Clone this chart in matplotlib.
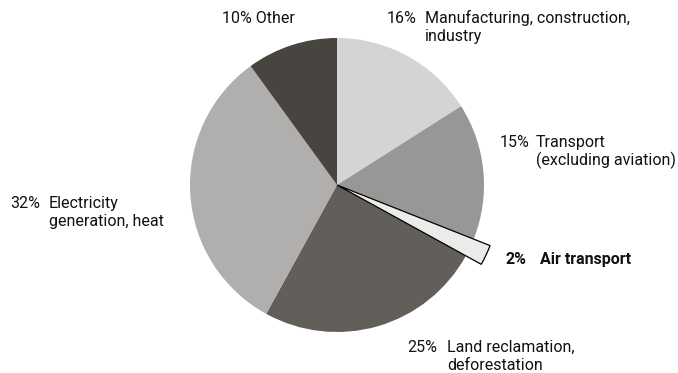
import matplotlib.pyplot as plt

plt.rcParams['font.family'] = ['Roboto', 'DejaVu Sans']

# Shares of emissions by sector, clockwise from the top
sectors = [['Manufacturing, construction,', 'industry'],
           ['Transport', '(excluding aviation)'],
           ['Air transport'],
           ['Land reclamation,', 'deforestation'],
           ['Electricity', 'generation, heat'],
           ['Other']]
shares = [16, 15, 2, 25, 32, 10]
colors = ['#d4d4d4', '#989796', '#ebebea', '#625e5a', '#b0afae', '#48443f']

# label anchors in pixels from top-left: percent x, name x, first baseline
pct_x = [387, 500, 506, 407, 10, 222]
name_x = [425, 536, 540, 447, 49, None]   # None: name follows the percent
base_y = [23, 147, 264, 352, 208, 23]
line_h = 18

W, H = 678, 373
fig = plt.figure(figsize=(W / 100, H / 100), dpi=100)
ax = fig.add_axes([0, 0, 1, 1])

cx, cy, r = 337, H - 185, 147
wedges, _ = ax.pie(shares, colors=colors, startangle=90, counterclock=False,
                   center=(cx, cy), radius=r, frame=True,
                   wedgeprops=dict(linewidth=0))
ax.set_xlim(0, W)
ax.set_ylim(0, H)
ax.set_aspect('equal')
ax.axis('off')

# air transport sticks out of the pie
air = 2
wedges[air].set_radius(r * 1.12)
wedges[air].set_edgecolor('black')
wedges[air].set_linewidth(0.9)
wedges[air].set_zorder(5)

fs = 11.5
for i, (lines, val) in enumerate(zip(sectors, shares)):
    weight = 'bold' if i == air else 'normal'
    y0 = H - base_y[i]
    if name_x[i] is None:
        ax.text(pct_x[i], y0, f'{val}% {lines[0]}', fontsize=fs, va='baseline',
                ha='left', color='#111111')
        continue
    ax.text(pct_x[i], y0, f'{val}%', fontsize=fs, va='baseline', ha='left',
            fontweight=weight, color='#111111')
    for k, line in enumerate(lines):
        ax.text(name_x[i], y0 - k * line_h, line, fontsize=fs, va='baseline',
                ha='left', fontweight=weight, color='#111111')

fig.savefig('out.png', dpi=100)
